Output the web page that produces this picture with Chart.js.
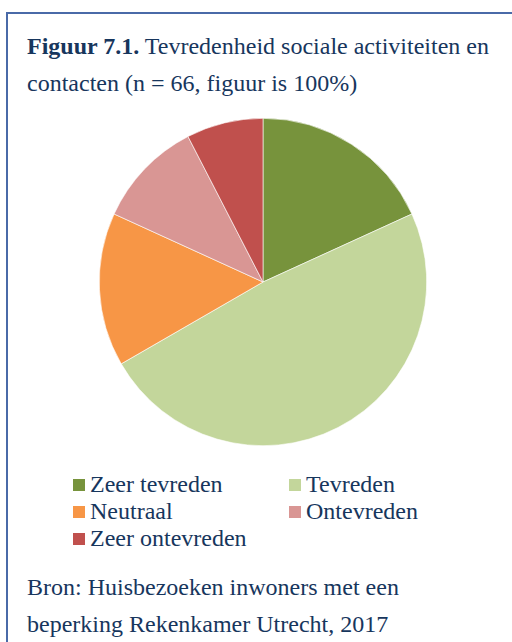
<!DOCTYPE html>
<html>
<head>
<meta charset="utf-8">
<script src="https://cdn.jsdelivr.net/npm/chart.js@4"></script>
<style>
  html, body { margin: 0; padding: 0; background: #fff; }
  body { width: 512px; height: 642px; overflow: hidden; position: relative;
         font-family: "Liberation Serif", "Times New Roman", serif; color: #17365D; }
  #frame { position: absolute; left: 6px; top: 12px; width: 600px; height: 700px;
           border: 2px solid #4A6AA8; box-sizing: border-box; }
  .txt { position: absolute; left: 27px; font-size: 24px; line-height: 37px; white-space: nowrap; }
  #title { top: 28px; }
  #source { top: 569px; }
  #pieWrap { position: absolute; left: 99px; top: 118px; width: 328px; height: 328px; }
  #legend { position: absolute; left: 0; top: 471px; width: 512px; }
  .item { position: absolute; font-size: 24px; line-height: 27px; white-space: nowrap; }
  .item span.box { position: absolute; left: 0; top: 8px; width: 12px; height: 12px; }
  .item span.lbl { position: absolute; left: 17px; top: 0; }
</style>
</head>
<body>
<div id="frame"></div>
<div id="title" class="txt"><b>Figuur 7.1.</b> Tevredenheid sociale activiteiten en<br>contacten (n = 66, figuur is 100%)</div>
<div id="pieWrap"><canvas id="graph"></canvas></div>
<div id="legend"></div>
<div id="source" class="txt">Bron: Huisbezoeken inwoners met een<br>beperking Rekenkamer Utrecht, 2017</div>
<script>
const labels = ['Zeer tevreden', 'Tevreden', 'Neutraal', 'Ontevreden', 'Zeer ontevreden'];
const counts = [12, 32, 10, 7, 5];
const colors = ['#77933C', '#C3D69B', '#F79646', '#D99694', '#C0504D'];

var ctx = document.getElementById('graph').getContext('2d');

var myGraph = new Chart(ctx, {
    type: 'pie',
    data: {
        labels: labels,
        datasets: [{
            data: counts,
            backgroundColor: colors,
            borderColor: '#ffffff',
            borderWidth: 0.6
        }]
    },
    options: {
        responsive: true,
        maintainAspectRatio: false,
        animation: false,
        layout: { padding: 0 },
        plugins: {
            legend: { display: false },
            title: { display: false },
            tooltip: { enabled: false }
        }
    }
});

// legend in two columns, built from the chart's own labels
var legend = document.getElementById('legend');
var cols = [73, 289];
myGraph.legend.legendItems.forEach(function (item, i) {
    var div = document.createElement('div');
    div.className = 'item';
    div.style.left = cols[i % 2] + 'px';
    div.style.top = (Math.floor(i / 2) * 27) + 'px';
    div.innerHTML = '<span class="box" style="background:' + item.fillStyle + '"></span><span class="lbl">' + item.text + '</span>';
    legend.appendChild(div);
});
</script>
</body>
</html>
